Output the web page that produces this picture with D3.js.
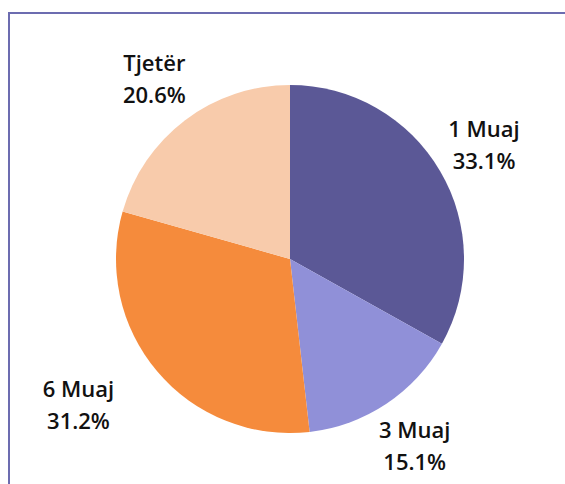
<!DOCTYPE html>
<html>
<head>
<meta charset="utf-8">
<script src="https://cdn.jsdelivr.net/npm/d3@7"></script>
<style>
  body { margin: 0; background: #fff; }
  svg { display: block; }
  .label { font-family: "Open Sans", sans-serif; font-size: 22px; font-weight: 600; fill: #111; }
</style>
</head>
<body>
<div id="chart"></div>
<script>
// kategoritë dhe përqindjet
const categories = ["1 Muaj", "3 Muaj", "6 Muaj", "Tjetër"];
const values = [33.1, 15.1, 31.2, 20.6];
const colors = ["#5b5896", "#9090d8", "#f58b3c", "#f8cbab"];

const width = 565, height = 484;
const cx = 290, cy = 259, radius = 174;

const svg = d3.select("#chart").append("svg")
  .attr("width", width)
  .attr("height", height);

// korniza (vetëm majtas dhe lart duken)
svg.append("rect")
  .attr("x", 9)
  .attr("y", 13)
  .attr("width", 600)
  .attr("height", 600)
  .attr("fill", "none")
  .attr("stroke", "#6c6cb0")
  .attr("stroke-width", 2);

const data = categories.map((c, i) => ({ name: c, value: values[i] }));

const pie = d3.pie().sort(null).value(d => d.value);
const arc = d3.arc().innerRadius(0).outerRadius(radius);
const labelArc = d3.arc().innerRadius(225).outerRadius(225);

const color = d3.scaleOrdinal().domain(categories).range(colors);

const g = svg.append("g").attr("transform", `translate(${cx},${cy})`);

const arcs = pie(data);

g.selectAll("path")
  .data(arcs)
  .enter().append("path")
  .attr("d", arc)
  .attr("fill", d => color(d.data.name));

// etiketa e majtë poshtë shtyhet pak majtas
const nudge = { "6 Muaj": -40 };

const labels = g.selectAll("text.label")
  .data(arcs)
  .enter().append("text")
  .attr("class", "label")
  .attr("text-anchor", "middle")
  .attr("transform", d => {
    const [x, y] = labelArc.centroid(d);
    return `translate(${x + (nudge[d.data.name] || 0)},${y})`;
  });

labels.append("tspan")
  .attr("x", 0)
  .attr("y", -8)
  .text(d => d.data.name);

labels.append("tspan")
  .attr("x", 0)
  .attr("y", 24)
  .text(d => d3.format(".1f")(d.data.value) + "%");
</script>
</body>
</html>
